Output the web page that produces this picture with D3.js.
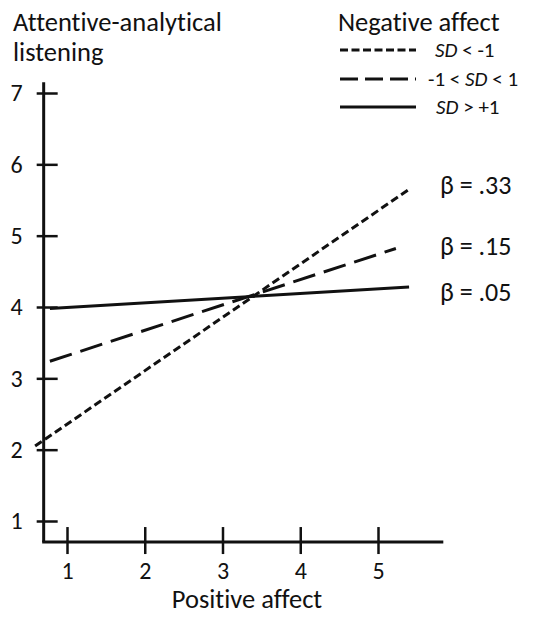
<!DOCTYPE html>
<html>
<head>
<meta charset="utf-8">
<script src="https://cdn.jsdelivr.net/npm/d3@7"></script>
<style>
  body { margin: 0; background: #fff; }
  text { font-family: Carlito, Lato, "Open Sans", sans-serif; fill: #111; font-variant-ligatures: none; }
</style>
</head>
<body>
<div id="vis"></div>
<script>
// values
var xTicks = [1, 2, 3, 4, 5],
    yTicks = [1, 2, 3, 4, 5, 6, 7],
    groups = ["SD < -1", "-1 < SD < 1", "SD > +1"],
    betas = ["β = .33", "β = .15", "β = .05"],
    xStart = [0.59, 0.78, 0.78],
    yStart = [2.05, 3.24, 3.98],
    xEnd = [5.40, 5.23, 5.40],
    yEnd = [5.65, 4.82, 4.28],
    dashes = ["8,4", "23,9", null];

var W = 539, H = 624;

var x = d3.scaleLinear().domain([1, 5]).range([67, 378]),
    y = d3.scaleLinear().domain([1, 7]).range([521, 93]);

var svg = d3.select("#vis").append("svg")
  .attr("width", W)
  .attr("height", H);

// axes
var yAxis = svg.append("g")
  .attr("transform", "translate(" + x(0.7) + ",0)")
  .call(d3.axisLeft(y).tickValues(yTicks).tickFormat(d3.format("d")).tickSize(0).tickPadding(21));
yAxis.select(".domain").remove();
yAxis.selectAll(".tick line").attr("x1", -7).attr("x2", 14)
  .attr("stroke", "#111").attr("stroke-width", 2.5);
yAxis.selectAll(".tick text").attr("font-size", 24).style("font-family", null);

var xAxis = svg.append("g")
  .attr("transform", "translate(0," + y(0.705) + ")")
  .call(d3.axisBottom(x).tickValues(xTicks).tickFormat(d3.format("d")).tickSize(0).tickPadding(20));
xAxis.select(".domain").remove();
xAxis.selectAll(".tick line").attr("y1", -15).attr("y2", 12)
  .attr("stroke", "#111").attr("stroke-width", 2.5);
xAxis.selectAll(".tick text").attr("font-size", 24).style("font-family", null);

svg.append("line")
  .attr("x1", x(0.7)).attr("x2", x(0.7))
  .attr("y1", y(7.15)).attr("y2", y(0.705))
  .attr("stroke", "#111").attr("stroke-width", 3);
svg.append("line")
  .attr("x1", x(0.7) - 1.5).attr("x2", x(5.84))
  .attr("y1", y(0.705)).attr("y2", y(0.705))
  .attr("stroke", "#111").attr("stroke-width", 3);

// regression lines
svg.selectAll(".reg").data(groups).enter().append("line")
  .attr("class", "reg")
  .attr("x1", function(d, i) { return x(xStart[i]); })
  .attr("y1", function(d, i) { return y(yStart[i]); })
  .attr("x2", function(d, i) { return x(xEnd[i]); })
  .attr("y2", function(d, i) { return y(yEnd[i]); })
  .attr("stroke", "#111")
  .attr("stroke-width", 3)
  .attr("stroke-dasharray", function(d, i) { return dashes[i]; });

// beta labels
svg.selectAll(".beta").data(betas).enter().append("text")
  .attr("class", "beta")
  .attr("x", 440)
  .attr("y", function(d, i) { return [185, 246, 292][i]; })
  .attr("dy", "0.35em")
  .attr("font-size", 26)
  .text(function(d) { return d; });

// axis titles
svg.append("text").attr("x", 13).attr("y", 31).attr("font-size", 26.5)
  .text("Attentive-analytical");
svg.append("text").attr("x", 13).attr("y", 61).attr("font-size", 26.5)
  .text("listening");
svg.append("text").attr("x", 247).attr("y", 608).attr("font-size", 26.5)
  .attr("text-anchor", "middle").text("Positive affect");

// legend
var legend = svg.append("g");
legend.append("text").attr("x", 338).attr("y", 31).attr("font-size", 26.5)
  .text("Negative affect");
var rows = legend.selectAll(".row").data(groups).enter().append("g")
  .attr("class", "row")
  .attr("transform", function(d, i) { return "translate(0," + [50, 79, 107][i] + ")"; });
rows.append("line")
  .attr("x1", 340).attr("x2", 416)
  .attr("stroke", "#111").attr("stroke-width", 3)
  .attr("stroke-dasharray", function(d, i) { return [ "8,3.5", "18,7", null ][i]; });
rows.append("text")
  .attr("x", function(d, i) { return [435, 428, 436][i]; })
  .attr("dy", "0.35em")
  .attr("font-size", 21)
  .each(function(d) {
    var t = d3.select(this);
    d.split(/(SD)/).forEach(function(p) {
      if (!p) return;
      t.append("tspan").attr("font-style", p === "SD" ? "italic" : null).text(p);
    });
  });
</script>
</body>
</html>
